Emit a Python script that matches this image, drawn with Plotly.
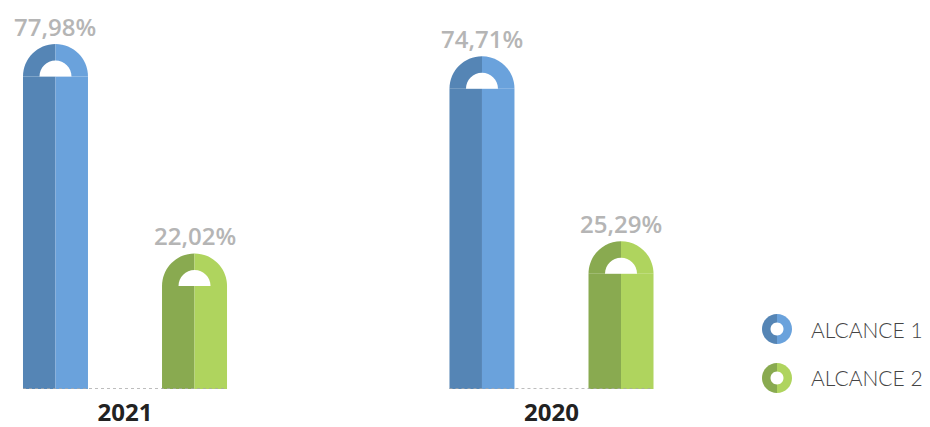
import plotly.graph_objects as go

# ---- data ----
categories = ["2021", "2020"]
series_names = ["ALCANCE 1", "ALCANCE 2"]
alcance1 = [77.98, 74.71]
alcance2 = [22.02, 25.29]
series_values = [alcance1, alcance2]

# ---- style ----
DARK = ["#5585B5", "#89AA50"]
LIGHT = ["#6AA2DC", "#AFD45E"]
LABEL_GRAY = "#B5B5B5"
BASE = -5.5            # visual baseline of bars (axis floor)
OFFSET = 0.163         # bar offset from group center (x units)
BAR_W = 0.1524         # bar width (x units)
CAP_R = 32.5           # cap radius px
HOLE_R = 16            # inner white half disc radius px
K = 0.5523

def half_disc_path(r, part="full"):
    kr = K * r
    if part == "left":
        return f"M {-r},0 C {-r},{kr} {-kr},{r} 0,{r} L 0,0 Z"
    if part == "right":
        return f"M 0,{r} C {kr},{r} {r},{kr} {r},0 L 0,0 Z"
    return f"M {-r},0 C {-r},{kr} {-kr},{r} 0,{r} C {kr},{r} {r},{kr} {r},0 Z"

def full_disc_half_path(r, part):
    kr = K * r
    if part == "left":
        return (f"M 0,{r} C {-kr},{r} {-r},{kr} {-r},0 "
                f"C {-r},{-kr} {-kr},{-r} 0,{-r} Z")
    return (f"M 0,{r} C {kr},{r} {r},{kr} {r},0 "
            f"C {r},{-kr} {kr},{-r} 0,{-r} Z")

fig = go.Figure()
shapes = []
annotations = []

for si, vals in enumerate(series_values):
    sign = -1 if si == 0 else 1
    xs = [gi + sign * OFFSET for gi in range(len(categories))]
    # dark left half
    fig.add_trace(go.Bar(
        x=[x - BAR_W / 4 for x in xs], y=[v - BASE for v in vals], base=BASE,
        width=BAR_W / 2, marker=dict(color=DARK[si], line=dict(width=0)),
        showlegend=False, hoverinfo="skip"))
    # light right half
    fig.add_trace(go.Bar(
        x=[x + BAR_W / 4 for x in xs], y=[v - BASE for v in vals], base=BASE,
        width=BAR_W / 2, marker=dict(color=LIGHT[si], line=dict(width=0)),
        showlegend=False, hoverinfo="skip"))
    for x, v in zip(xs, vals):
        common = dict(type="path", xref="x", yref="y", xsizemode="pixel",
                      ysizemode="pixel", xanchor=x, yanchor=v,
                      line=dict(width=0), layer="above")
        shapes.append(dict(common, path=half_disc_path(CAP_R, "left"), fillcolor=DARK[si]))
        shapes.append(dict(common, path=half_disc_path(CAP_R, "right"), fillcolor=LIGHT[si]))
        shapes.append(dict(common, path=half_disc_path(HOLE_R), fillcolor="white"))
        annotations.append(dict(
            x=x, y=v, xref="x", yref="y", yanchor="bottom", yshift=CAP_R - 1,
            text=f"{v:.2f}".replace(".", ",") + "%", showarrow=False,
            font=dict(family="Open Sans", size=24, color=LABEL_GRAY, weight=600)))

# dotted baselines per group
for gi in range(len(categories)):
    fig.add_trace(go.Scatter(
        x=[gi - OFFSET - BAR_W / 2, gi + OFFSET + BAR_W / 2], y=[BASE, BASE],
        mode="lines", line=dict(color="#A8A8A8", width=1.6, dash="3px,3px"),
        showlegend=False, hoverinfo="skip", cliponaxis=False))

# custom legend
legend_x = 0.8355
legend_ys = [0.1542, 0.0283]
for si, name in enumerate(series_names):
    common = dict(type="path", xref="paper", yref="paper", xsizemode="pixel",
                  ysizemode="pixel", xanchor=legend_x, yanchor=legend_ys[si],
                  line=dict(width=0), layer="above")
    shapes.append(dict(common, path=full_disc_half_path(15, "left"), fillcolor=DARK[si]))
    shapes.append(dict(common, path=full_disc_half_path(15, "right"), fillcolor=LIGHT[si]))
    shapes.append(dict(common, path=full_disc_half_path(6.5, "left"), fillcolor="white"))
    shapes.append(dict(common, path=full_disc_half_path(6.5, "right"), fillcolor="white"))
    annotations.append(dict(
        x=0.8695, y=legend_ys[si], xref="paper", yref="paper", xanchor="left",
        yanchor="middle", text=name, showarrow=False,
        font=dict(family="Lato", size=21, color="#444444", weight=300)))

fig.update_layout(
    width=930, height=427,
    margin=dict(l=0, r=0, t=0, b=38),
    paper_bgcolor="white", plot_bgcolor="white",
    barmode="overlay",
    shapes=shapes, annotations=annotations,
    showlegend=False,
    xaxis=dict(range=[-0.2931, 1.8875], showgrid=False, zeroline=False,
               showline=False, tickmode="array", automargin=False,
               tickvals=list(range(len(categories))), ticktext=categories,
               ticks="", ticklabelstandoff=7,
               tickfont=dict(family="Open Sans", size=24, color="#222222", weight=700)),
    yaxis=dict(range=[BASE, BASE + 389 / 3.744], showgrid=False, zeroline=False,
               showline=False, showticklabels=False, automargin=False),
)

fig.write_html("out.html")
